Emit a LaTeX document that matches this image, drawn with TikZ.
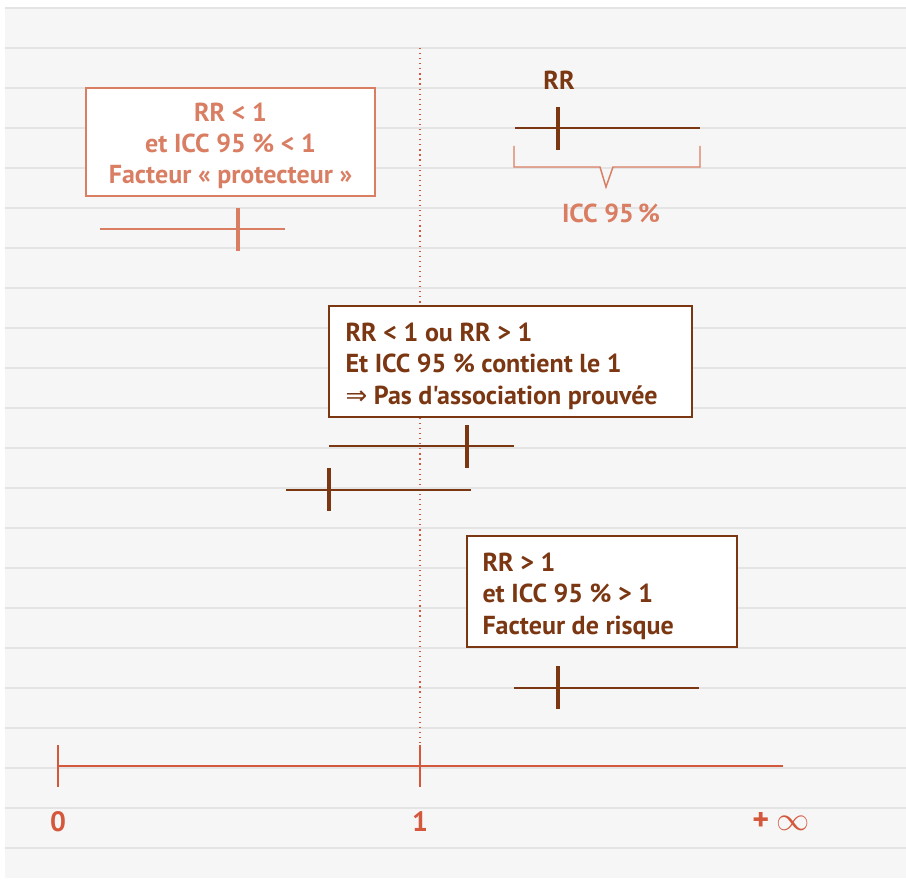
\documentclass[tikz,border=0pt]{standalone}
\usepackage{fontspec}
\setmainfont{PT Sans}[Ligatures=TeXOff]
\newfontfamily\symbolfont{DejaVu Sans}
\definecolor{paper}{HTML}{F6F6F6}
\definecolor{rule}{HTML}{E4E4E4}
\definecolor{salmon}{HTML}{D97E63}
\definecolor{brownish}{HTML}{7B3612}
\definecolor{axisred}{HTML}{D4583C}
\begin{document}
\begin{tikzpicture}[x=0.75pt,y=-0.75pt,
  txt/.style={font=\bfseries\fontsize{19.5}{23.5}\selectfont},
  frame/.style={draw,fill=white,line width=1.1pt,inner sep=0pt},
  whisker/.style={line width=1.5pt},
  rrmark/.style={line width=3.6pt},
  axislbl/.style={font=\bfseries\fontsize{21}{24}\selectfont,text=axisred}]
  \useasboundingbox (0,0) rectangle (906,880);
  % ruled paper background
  \fill[paper] (5,8) rectangle (906,878);
  \foreach \yy in {8,48,...,848}
    \draw[rule,line width=1.1pt] (5,\yy) -- (906,\yy);

  % reference line at RR = 1
  \coordinate (reftop) at (420,48);
  \coordinate (refbot) at (420,766);
  \draw[axisred,line width=0.9pt,dash pattern=on 0.9pt off 2.9pt] (reftop) -- (refbot);

  % axis
  \coordinate (a0) at (58,766);
  \coordinate (a1) at (420,766);
  \coordinate (ainf) at (783,766);
  \draw[axisred,line width=1.5pt] (a0) -- (ainf);
  \draw[axisred,line width=0.8pt] (58,745) -- (58,787);
  \draw[axisred,line width=0.8pt] (420,745) -- (420,787);
  \node[axislbl] (l0) at (58,822) {0};
  \node[axislbl] (l1) at (420,822) {1};
  \node[axislbl] (linf) at (781,821) {{\fontsize{24}{24}\selectfont+} {\fontsize{27}{27}\selectfont$\infty$}};

  % legend example: RR and its interval
  \node[txt,text=brownish] (rrlbl) at (559,80) {RR};
  \coordinate (ex-l) at (515,128);
  \coordinate (ex-r) at (700,128);
  \draw[brownish,whisker] (ex-l) -- (ex-r);
  \draw[brownish,rrmark] (558,107) -- (558,150);
  \draw[salmon,line width=1.1pt]
    (514,146) -- (514,167) -- (600,167) -- (606,187) -- (613,167)
    -- (700,167) -- (700,146);
  \node[txt,text=salmon] (icclbl) at (611,213) {ICC 95\,\%};

  % protective factor
  \node[frame,draw=salmon,minimum width=216.75pt,minimum height=81pt]
    (protect) at (230.5,142) {};
  \node[txt,text=salmon,align=center] (protect-txt) at ([yshift=-3pt]protect.center)
    {RR < 1\\et ICC 95 \% < 1\\Facteur « protecteur »};
  \coordinate (p-l) at (100,229);
  \coordinate (p-r) at (285,229);
  \draw[salmon,whisker] (p-l) -- (p-r);
  \draw[salmon,rrmark] (238,208) -- (238,251);

  % no proven association
  \node[frame,draw=brownish,minimum width=272.25pt,minimum height=83.25pt]
    (noassoc) at (510.5,361.5) {};
  \node[txt,text=brownish,align=left,anchor=west,inner sep=0pt]
    (noassoc-txt) at ([xshift=12.75pt,yshift=-3.5pt]noassoc.west)
    {RR < 1 ou RR > 1\\Et ICC 95 \% contient le 1\\{\symbolfont\mdseries ⇒} Pas d'association prouvée};
  \coordinate (n1-l) at (329,446);
  \coordinate (n1-r) at (514,446);
  \draw[brownish,whisker] (n1-l) -- (n1-r);
  \draw[brownish,rrmark] (467,425) -- (467,468);
  \coordinate (n2-l) at (286,490);
  \coordinate (n2-r) at (471,490);
  \draw[brownish,whisker] (n2-l) -- (n2-r);
  \draw[brownish,rrmark] (329,468) -- (329,511);

  % risk factor
  \node[frame,draw=brownish,minimum width=202.5pt,minimum height=83.25pt]
    (risk) at (602,591.5) {};
  \node[txt,text=brownish,align=left,anchor=west,inner sep=0pt]
    (risk-txt) at ([xshift=12pt,yshift=-3.5pt]risk.west)
    {RR > 1\\et ICC 95 \% > 1\\Facteur de risque};
  \coordinate (r-l) at (514,688);
  \coordinate (r-r) at (699,688);
  \draw[brownish,whisker] (r-l) -- (r-r);
  \draw[brownish,rrmark] (558,666) -- (558,709);
\end{tikzpicture}
\end{document}
